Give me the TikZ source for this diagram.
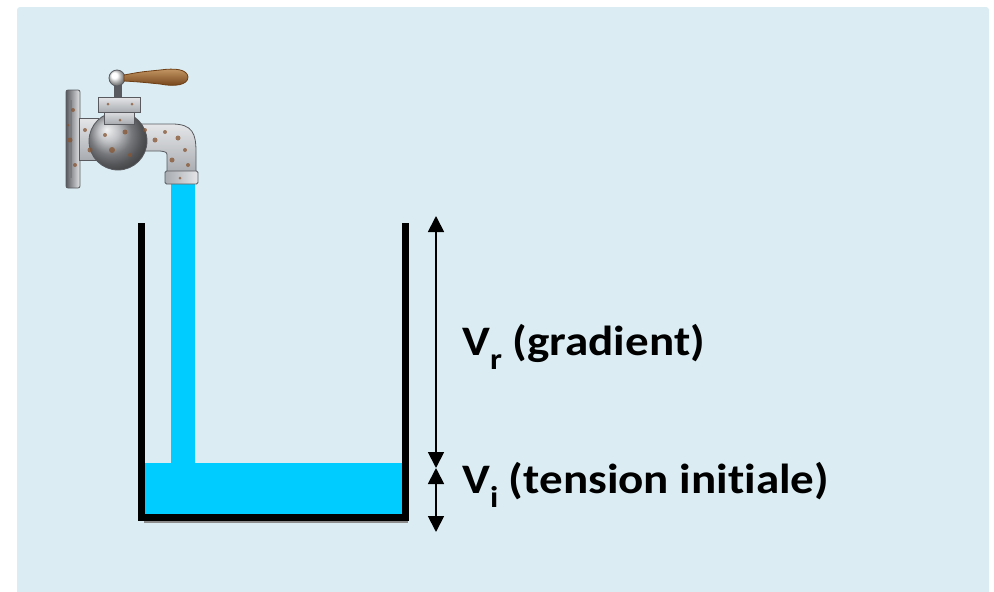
\documentclass[tikz,border=0pt]{standalone}
\usepackage{fontspec}
\setmainfont{Carlito}[Ligatures=NoCommon]
\newfontfamily\labelfont{Carlito}[Ligatures=NoCommon, FakeStretch=1.12]
\usetikzlibrary{arrows.meta}
\definecolor{panel}{RGB}{219,237,243}
\definecolor{water}{RGB}{0,204,255}
\definecolor{metal}{RGB}{168,171,176}
\definecolor{metallight}{RGB}{228,230,232}
\definecolor{metaldark}{RGB}{88,90,95}
\definecolor{rust}{RGB}{135,85,50}
\definecolor{wood}{RGB}{176,112,40}
\definecolor{wooddark}{RGB}{110,62,20}
\newcommand\lowsub[1]{\raisebox{-14pt}{\fontsize{30}{30}\selectfont #1}}
\tikzset{
  wall/.style={line width=6.5pt, line join=miter, line cap=rect},
  wallshadow/.style={line width=6.5pt, line join=miter, draw=black!45},
  dim/.style={line width=1.8pt, {Triangle[length=16pt,width=16pt]}-{Triangle[length=16pt,width=16pt]}},
  lbl/.style={inner sep=0pt, anchor=base west, font=\labelfont\bfseries\fontsize{42}{42}\selectfont},
  chrome/.style={draw=metaldark, line width=0.8pt},
  speck/.style={fill=rust, opacity=0.75},
}
\begin{document}
\begin{tikzpicture}[x=1pt,y=-1pt]
\useasboundingbox (0,0) rectangle (994,592);
% panel
\fill[panel] (17,592) [rounded corners=3pt] -- (17,7) -- (989,7) [sharp corners] -- (989,592) -- cycle;

% water: falling stream and pool
\fill[water] (171,183) rectangle (195,463);
\fill[water] (145,463) rectangle (403,515);

% container
\coordinate (lt) at (141.5,226);
\coordinate (lb) at (141.5,517.5);
\coordinate (rb) at (405.5,517.5);
\coordinate (rt) at (405.5,226);
\draw[wallshadow] ([shift={(2,2)}]lb) -- ([shift={(2,2)}]rb);
\draw[wall] (lt) -- (lb) -- (rb) -- (rt);

% faucet: wall flange
\shade[chrome, left color=metaldark, right color=metallight, rounded corners=2pt] (66,90) rectangle (80,188);
\fill[metaldark!80] (69,100) rectangle (72,178);
% neck to body
\shade[chrome, top color=metallight, bottom color=metal] (79,118) rectangle (98,160);
% spout
\shade[chrome, top color=metallight, bottom color=metal]
  (138,124) -- (172,124) .. controls (193,124) and (196,134) .. (196,152)
  -- (196,173) -- (167,173) -- (167,157) .. controls (167,152) .. (160,151) -- (138,151) -- cycle;
% nozzle ring
\shade[chrome, left color=metal, right color=metallight, rounded corners=1.5pt] (165,171) rectangle (198,184);
% body
\shade[chrome, ball color=metal] (118,141) circle (29);
% bonnet
\shade[chrome, top color=metallight, bottom color=metal] (104,110) rectangle (134,124);
\shade[chrome, top color=metallight, bottom color=metal] (98,97) rectangle (140,112);
% stem and knob
\fill[metaldark] (114,84) rectangle (122,98);
\shade[chrome, ball color=white] (117,78) circle (8);
% handle
\shade[draw=wooddark, line width=0.8pt, top color=wood!70!white, bottom color=wooddark]
  (124,75) .. controls (140,72) .. (160,70) .. controls (175,68) and (187,69) .. (188,77)
  .. controls (188,85) and (175,87) .. (160,84) .. controls (140,82) .. (124,81) -- cycle;
% rust specks
\foreach \px/\py/\r in {73/110/2, 70/140/2.5, 75/165/2, 68/125/1.5, 85/130/2, 90/150/2.5,
  105/135/2, 112/150/3, 125/132/2.5, 130/155/2, 120/120/1.5, 145/130/2, 155/140/2.5,
  165/132/2, 178/138/2.5, 185/150/2, 172/160/2.5, 188/165/2, 180/178/1.5, 108/104/1.5, 132/104/1.5}
  \fill[speck] (\px,\py) circle (\r);

% dimension arrows
\coordinate (atop) at (436,216);
\coordinate (amid) at (436,468);
\coordinate (abot) at (436,532);
\draw[dim] (amid) -- (atop);
\draw[dim] (amid) -- (abot);

% labels
\node[lbl] (vr) at (462,355) {V\lowsub{r} (gradient)};
\node[lbl] (vi) at (462,493) {V\lowsub{i} (tension initiale)};
\end{tikzpicture}
\end{document}
